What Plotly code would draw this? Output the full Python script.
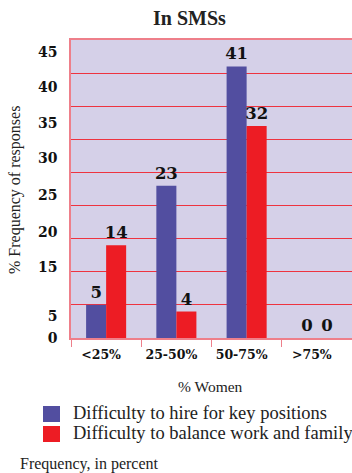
import plotly.graph_objects as go

# Survey results: share of firms reporting each difficulty, by share of women employed
categories = ["<25%", "25-50%", "50-75%", ">75%"]
hire_key_positions = [5, 23, 41, 0]
balance_work_family = [14, 4, 32, 0]
series_names = ["Difficulty to hire for key positions",
                "Difficulty to balance work and family"]

# Axis labelling
y_tick_text = ["0", "5", "15", "20", "25", "30", "35", "40", "45"]
y_tick_pos = [0, 3.3, 10.7, 16.0, 21.6, 27.2, 32.5, 37.9, 43.2]
y_grid = [0, 5, 10, 15, 20, 25, 30, 35, 40, 45]

BLUE = "#524EA0"
RED = "#ED1C24"
PINK = "#EE7F8A"
SERIF = "Liberation Serif"
NUM = "DejaVu Serif"

W, H = 352, 473
L, R, T, B = 71, 0, 40, 135
PW, PH = W - L - R, H - T - B


def px(x):
    return (x - L) / PW


def py(y):
    return (H - B - y) / PH


fig = go.Figure()
for name, vals, col in [(series_names[0], hire_key_positions, BLUE),
                        (series_names[1], balance_work_family, RED)]:
    fig.add_trace(go.Bar(
        x=categories, y=vals, name=name, marker=dict(color=col, line=dict(width=0)),
        text=[str(v) for v in vals], textposition="outside", constraintext="none",
        textfont=dict(family=NUM, size=16.5, color="#111111", weight="bold"),
        cliponaxis=False, showlegend=False,
    ))


def label(text, x, y, size, anchor="center", angle=0):
    return dict(text=text, x=px(x), y=py(y), xref="paper", yref="paper",
                xanchor=anchor, yanchor="middle", textangle=angle, showarrow=False,
                font=dict(family=SERIF, size=size, color="#222222"))


annotations = [
    label("<b>In SMSs</b>", 189, 18, 20),
    label("% Frequency of responses", 15, 190, 16, angle=-90),
    label("% Women", 210, 386, 15.5),
    label("Frequency, in percent", 18, 464, 16, anchor="left"),
]

shapes = []
for i, (name, col) in enumerate(zip(series_names, [BLUE, RED])):
    top = 406 + i * 20
    shapes.append(dict(type="rect", xref="paper", yref="paper",
                       x0=px(43), x1=px(60), y0=py(top), y1=py(top + 16),
                       fillcolor=col, line=dict(width=0)))
    annotations.append(label(name, 71, top + 7, 18.5, anchor="left"))

fig.update_layout(
    width=W, height=H, margin=dict(l=L, r=R, t=T, b=B),
    paper_bgcolor="white", plot_bgcolor="#D5D0E8",
    barmode="group", bargap=0.43, bargroupgap=0,
    annotations=annotations, shapes=shapes,
    xaxis=dict(type="category", tickson="boundaries", ticks="outside", ticklen=7,
               tickcolor=PINK, showline=True, linecolor=PINK, linewidth=1.5,
               mirror=True, showgrid=False, ticklabelstandoff=4, ticklabelshift=-5,
               tickfont=dict(family=NUM, size=12.5, color="#111111", weight="bold")),
    yaxis=dict(range=[0, 45], tickmode="array", tickvals=y_tick_pos, ticktext=y_tick_text,
               showgrid=False, zeroline=False, ticks="", ticklabelstandoff=9,
               showline=True, linecolor=PINK, linewidth=1.5,
               tickfont=dict(family=NUM, size=14, color="#111111", weight="bold"),
               minor=dict(tickmode="array", tickvals=y_grid, showgrid=True,
                          gridcolor="#EE3340", gridwidth=1, ticks="")),
)

fig.write_html("out.html")
